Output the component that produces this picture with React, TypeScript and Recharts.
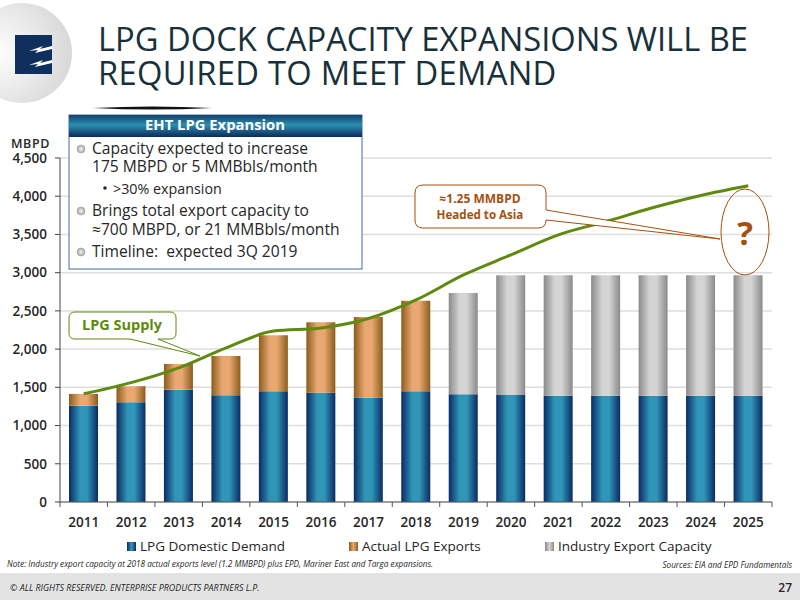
import { Bar, CartesianGrid, ComposedChart, Legend, Line, XAxis, YAxis } from 'recharts';

const YEARS = ['2011', '2012', '2013', '2014', '2015', '2016', '2017', '2018', '2019', '2020', '2021', '2022', '2023', '2024', '2025'];
const DOMESTIC = [1260, 1305, 1470, 1396, 1448, 1430, 1365, 1448, 1410, 1400, 1390, 1390, 1390, 1390, 1390];
const EXPORTS = [154, 209, 336, 515, 733, 921, 1056, 1183, 0, 0, 0, 0, 0, 0, 0];
const CAPACITY = [0, 0, 0, 0, 0, 0, 0, 0, 1325, 1567, 1577, 1577, 1577, 1577, 1577];
const SUPPLY = [1415, 1561, 1754, 2015, 2236, 2276, 2400, 2643, 2970, 3233, 3495, 3669, 3852, 4010, 4136];
const Y_TICKS = [0, 500, 1000, 1500, 2000, 2500, 3000, 3500, 4000, 4500];

const SERIES_NAMES = ['LPG Domestic Demand', 'Actual LPG Exports', 'Industry Export Capacity'];
const LEGEND_LEFT = [127, 349, 545];

const FONT = '"Open Sans", sans-serif';
const TEXT = '#262626';
const BROWN = '#a5500f';
const GREEN = '#5f8a0f';

const data = YEARS.map((year, i) => ({
  year,
  domestic: DOMESTIC[i],
  exports: EXPORTS[i],
  capacity: CAPACITY[i],
  supply: SUPPLY[i],
}));

function barGradient(id: string, edge: string, mid: string) {
  return (
    <linearGradient id={id} x1="0" y1="0" x2="1" y2="0">
      <stop offset="0%" stopColor={edge} />
      <stop offset="38%" stopColor={mid} />
      <stop offset="62%" stopColor={mid} />
      <stop offset="100%" stopColor={edge} />
    </linearGradient>
  );
}

const BAND = 712 / YEARS.length;

// ticks sit on the category boundaries, labels in the middle
function YearTick({ x, y, payload, index }: any) {
  return (
    <g>
      <line x1={x - BAND / 2} x2={x - BAND / 2} y1={y} y2={y + 5} stroke="#555" />
      {index === YEARS.length - 1 && (
        <line x1={x + BAND / 2} x2={x + BAND / 2} y1={y} y2={y + 5} stroke="#555" />
      )}
      <text x={x} y={y + 25} textAnchor="middle" fontFamily={FONT} fontSize={13.5} fontWeight={600} fill={TEXT}>
        {payload.value}
      </text>
    </g>
  );
}

function ChartLegend({ payload }: any) {
  const items = (payload || []).filter((item: any) => SERIES_NAMES.includes(item.value));
  return (
    <div style={{ position: 'relative', height: 0 }}>
      {items.map((item: any) => {
        const i = SERIES_NAMES.indexOf(item.value);
        return (
          <div
            key={item.value}
            style={{
              position: 'absolute',
              left: LEGEND_LEFT[i],
              top: 0,
              display: 'flex',
              alignItems: 'center',
              fontFamily: FONT,
              fontSize: 13.5,
              color: TEXT,
              whiteSpace: 'nowrap',
            }}
          >
            <span
              style={{
                width: 9,
                height: 9,
                marginRight: 4,
                background: ['linear-gradient(90deg,#0a2a63,#2f96b7,#0a2a63)', 'linear-gradient(90deg,#8a5c1c,#e9a871,#8a5c1c)', 'linear-gradient(90deg,#8a8a8a,#d4d4d4,#8a8a8a)'][i],
              }}
            />
            {item.value}
          </div>
        );
      })}
    </div>
  );
}

function Overlay() {
  return (
    <svg width={800} height={600} style={{ position: 'absolute', left: 0, top: 0, pointerEvents: 'none' }}>
      <defs>
        <radialGradient id="logoDisc" cx="25%" cy="50%" r="75%">
          <stop offset="0%" stopColor="#ffffff" />
          <stop offset="100%" stopColor="#d8d8d8" />
        </radialGradient>
        <linearGradient id="boxHead" x1="0" y1="0" x2="0" y2="1">
          <stop offset="0%" stopColor="#12406f" />
          <stop offset="45%" stopColor="#2a8fb0" />
          <stop offset="100%" stopColor="#0d2a5c" />
        </linearGradient>
        <radialGradient id="bullet">
          <stop offset="0%" stopColor="#f2f2f2" />
          <stop offset="100%" stopColor="#a8a8a8" />
        </radialGradient>
      </defs>

      {/* logo */}
      <circle cx={22} cy={53} r={50} fill="url(#logoDisc)" />
      <rect x={15} y={35} width={37} height={39} fill="#0f2f5c" />
      <path d="M52 46 L40 49 L43 46 L29 51 L38 50 L35 53 L52 49 Z" fill="#fff" />
      <path d="M52 60 L40 63 L43 60 L29 65 L38 64 L35 67 L52 63 Z" fill="#fff" />

      {/* title */}
      <text x={98} y={51} fontFamily={FONT} fontSize={32.7} fill="#17303a">LPG DOCK CAPACITY EXPANSIONS WILL BE</text>
      <text x={98} y={85} fontFamily={FONT} fontSize={32.7} letterSpacing={0.3} fill="#17303a">REQUIRED TO MEET DEMAND</text>

      <path d="M93 108 Q152 105 212 108 Q152 111 93 108 Z" fill="#111" />

      {/* expansion box */}
      <rect x={69} y={115} width={293} height={154} fill="#fff" stroke="#4a6a9a" />
      <rect x={69} y={115} width={293} height={22} fill="url(#boxHead)" />
      <text x={215} y={130} textAnchor="middle" fontFamily={FONT} fontSize={14.8} fontWeight={700} fill="#fff">EHT LPG Expansion</text>
      <g fontFamily={FONT} fontSize={15.6} fill={TEXT}>
        <circle cx={81} cy={149} r={4} fill="url(#bullet)" stroke="#999" strokeWidth={0.5} />
        <text x={92} y={154}>Capacity expected to increase</text>
        <text x={92} y={172}>175 MBPD or 5 MMBbls/month</text>
        <circle cx={105} cy={188} r={1.8} fill={TEXT} />
        <text x={113} y={194} fontSize={14.3}>{'>30% expansion'}</text>
        <circle cx={81} cy={211} r={4} fill="url(#bullet)" stroke="#999" strokeWidth={0.5} />
        <text x={92} y={216}>Brings total export capacity to</text>
        <text x={92} y={235}>≈700 MBPD, or 21 MMBbls/month</text>
        <circle cx={81} cy={252} r={4} fill="url(#bullet)" stroke="#999" strokeWidth={0.5} />
        <text x={92} y={257}>Timeline:{'\u00a0\u00a0'}expected 3Q 2019</text>
      </g>

      <text x={11} y={148} fontFamily={FONT} fontSize={12.5} fontWeight={600} fill={TEXT} letterSpacing={0.6}>MBPD</text>

      {/* LPG Supply callout */}
      <path
        d="M75 312 H170 Q176 312 176 318 V333 Q176 339 170 339 H158 L200 356 L130 339 H75 Q69 339 69 333 V318 Q69 312 75 312 Z"
        fill="#fff"
        stroke={GREEN}
        strokeWidth={1}
      />
      <text x={122} y={330} textAnchor="middle" fontFamily={FONT} fontSize={14.5} fontWeight={700} fill={GREEN}>LPG Supply</text>

      {/* Asia callout */}
      <path
        d="M423 185 H538 Q546 185 546 193 V210 L720 239 L546 220 Q546 228 538 228 H423 Q415 228 415 220 V193 Q415 185 423 185 Z"
        fill="#fff"
        stroke={BROWN}
        strokeWidth={1}
      />
      <text x={480} y={203} textAnchor="middle" fontFamily={FONT} fontSize={12} fontWeight={700} fill={BROWN}>≈1.25 MMBPD</text>
      <text x={480} y={219} textAnchor="middle" fontFamily={FONT} fontSize={11.6} fontWeight={700} fill={BROWN}>Headed to Asia</text>
      <ellipse cx={745} cy={232} rx={24} ry={43} fill="none" stroke={BROWN} strokeWidth={1} />
      <text x={745} y={245} textAnchor="middle" fontFamily={FONT} fontSize={33} fontWeight={700} fill={BROWN}>?</text>

      {/* notes and footer */}
      <text x={7} y={567} fontFamily={FONT} fontSize={8.2} fontStyle="italic" fill={TEXT}>
        Note:  Industry export capacity at 2018 actual exports level (1.2 MMBPD) plus EPD, Mariner East and Targa expansions.
      </text>
      <text x={792} y={568} textAnchor="end" fontFamily={FONT} fontSize={8.2} fontStyle="italic" fill={TEXT}>
        Sources:  EIA and EPD Fundamentals
      </text>
      <rect x={0} y={573} width={800} height={27} fill="#e3e3e3" />
      <text x={10} y={591} fontFamily={FONT} fontSize={8.9} fontStyle="italic" fill={TEXT}>
        © ALL RIGHTS RESERVED. ENTERPRISE PRODUCTS PARTNERS L.P.
      </text>
      <text x={792} y={592} textAnchor="end" fontFamily={FONT} fontSize={12} fontWeight={600} fill={TEXT}>27</text>
    </svg>
  );
}

export default function App() {
  return (
    <div style={{ position: 'absolute', left: 0, top: 0, width: 800, height: 600, background: '#fff', overflow: 'hidden' }}>
      <ComposedChart
        width={800}
        height={600}
        data={data}
        barSize={29}
        margin={{ top: 158, right: 28, bottom: 58, left: 0 }}
      >
        <defs>
          {barGradient('domesticFill', '#0a2a63', '#2f96b7')}
          {barGradient('exportsFill', '#8a5c1c', '#e9a871')}
          {barGradient('capacityFill', '#8a8a8a', '#d4d4d4')}
        </defs>
        <CartesianGrid vertical={false} stroke="#dedede" strokeWidth={1.5} />
        <XAxis
          dataKey="year"
          interval={0}
          height={40}
          stroke="#555"
          tickLine={false}
          tick={(props: any) => <YearTick {...props} y={props.y - 8} />}
        />
        <YAxis
          width={60}
          domain={[0, 4500]}
          ticks={Y_TICKS}
          stroke="#444"
          tickSize={5}
          tickMargin={8}
          tickFormatter={(v: number) => v.toLocaleString('en-US')}
          tick={{ fontFamily: FONT, fontSize: 13.5, fontWeight: 600, fill: TEXT }}
        />
        <Legend
          content={<ChartLegend />}
          wrapperStyle={{ position: 'absolute', left: 0, top: 537, width: 800 }}
        />
        <Bar dataKey="domestic" name={SERIES_NAMES[0]} stackId="a" fill="url(#domesticFill)" isAnimationActive={false} />
        <Bar dataKey="exports" name={SERIES_NAMES[1]} stackId="a" fill="url(#exportsFill)" isAnimationActive={false} />
        <Bar dataKey="capacity" name={SERIES_NAMES[2]} stackId="a" fill="url(#capacityFill)" isAnimationActive={false} />
        <Line
          dataKey="supply"
          name="LPG Supply"
          type="monotone"
          stroke={GREEN}
          strokeWidth={3}
          dot={false}
          legendType="none"
          isAnimationActive={false}
        />
      </ComposedChart>
      <Overlay />
    </div>
  );
}
